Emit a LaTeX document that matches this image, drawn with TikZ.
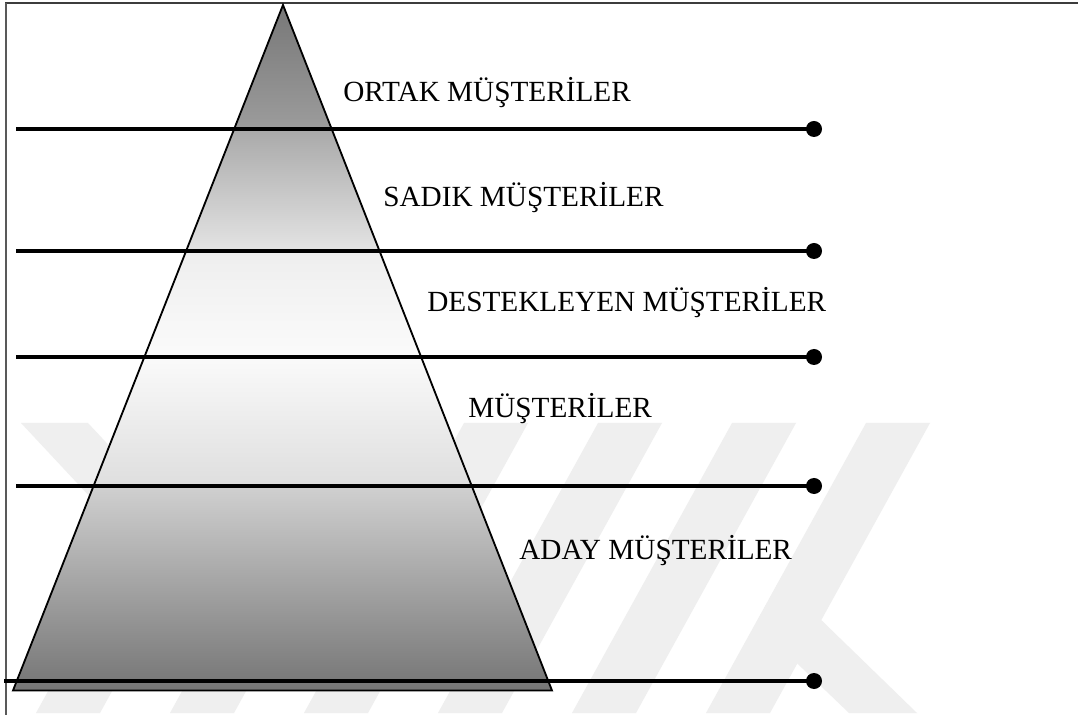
\documentclass[tikz,border=0pt]{standalone}
\usepackage{fontspec}
\setmainfont{Liberation Serif}
\definecolor{wm}{HTML}{EFEFEF}
\definecolor{frameline}{HTML}{3C3C3C}
\definecolor{gA}{HTML}{777777}
\definecolor{gB}{HTML}{9C9C9C}
\definecolor{gC}{HTML}{A9A9A9}
\definecolor{gD}{HTML}{E4E4E4}
\definecolor{gE}{HTML}{EEEEEE}
\definecolor{gF}{HTML}{FBFBFB}
\definecolor{gG}{HTML}{FAFAFA}
\definecolor{gH}{HTML}{DEDEDE}
\definecolor{gI}{HTML}{D0D0D0}
\definecolor{gJ}{HTML}{747474}
\begin{document}
\begin{tikzpicture}[x=0.025cm,y=-0.025cm,
  tier/.style={anchor=base west, inner sep=0pt,
    font=\fontsize{20.8}{25}\selectfont, text=black},
  level/.style={line width=2.2pt, black},
  dot/.style={circle, fill=black, inner sep=0pt, minimum size=0.4cm},
  pyredge/.style={line width=1.3pt, black, line join=miter},
  frame/.style={line width=1.6pt, frameline}]
\useasboundingbox (0,0) rectangle (1078,720);
\fill[white] (0,0) rectangle (1078,720);

% faint background emblem
\begin{scope}
  \clip (0,423) rectangle (1078,713);
  \foreach \t in {196,330,464,598,732,866}
    \fill[wm] (\t,423) -- (\t+64,423) -- (\t+64-160,713) -- (\t-160,713) -- cycle;
  \fill[wm] (780,580) -- (917,713) -- (849,713) -- (756,624) -- cycle;
  \fill[wm] (21,423) -- (88,423) -- (300,650) -- (233,650) -- cycle;
\end{scope}

% frame
\coordinate (ftl) at (6,3);
\coordinate (ftr) at (1078,3);
\coordinate (fbl) at (6,715);
\draw[frame] (5,3) -- (ftr);
\draw[line width=1.3pt, black!65] (ftl) -- (fbl);

% pyramid
\coordinate (apex) at (283,5);
\coordinate (bl) at (13,690.5);
\coordinate (br) at (552,690.5);
\begin{scope}
  \clip (apex) -- (br) -- (bl) -- cycle;
  \shade[top color=gA, bottom color=gB] (0,4) rectangle (600,130);
  \shade[top color=gC, bottom color=gD] (0,129) rectangle (600,252);
  \shade[top color=gE, bottom color=gF] (0,251) rectangle (600,358);
  \shade[top color=gG, bottom color=gH] (0,357) rectangle (600,487);
  \shade[top color=gI, bottom color=gJ] (0,486) rectangle (600,692);
\end{scope}
\draw[pyredge] (apex) -- (br) -- (bl) -- cycle;

% tier labels
\node[tier] (t1) at (343,101.5) {ORTAK MÜŞTERİLER};
\node[tier] (t2) at (383,207) {SADIK MÜŞTERİLER};
\node[tier] (t3) at (427,312) {DESTEKLEYEN MÜŞTERİLER};
\node[tier] (t4) at (468,418) {MÜŞTERİLER};
\node[tier] (t5) at (519,560) {ADAY MÜŞTERİLER};

% dividing lines with end dots
\coordinate (s1) at (16,129);
\coordinate (s2) at (16,251);
\coordinate (s3) at (16,357);
\coordinate (s4) at (16,486);
\coordinate (s5) at (4,681);
\node[dot] (d1) at (814,129) {};
\node[dot] (d2) at (814,251) {};
\node[dot] (d3) at (814,357) {};
\node[dot] (d4) at (814,486) {};
\node[dot] (d5) at (814,681) {};
\foreach \i in {1,...,5}
  \draw[level] (s\i) -- (d\i.center);
\end{tikzpicture}
\end{document}
